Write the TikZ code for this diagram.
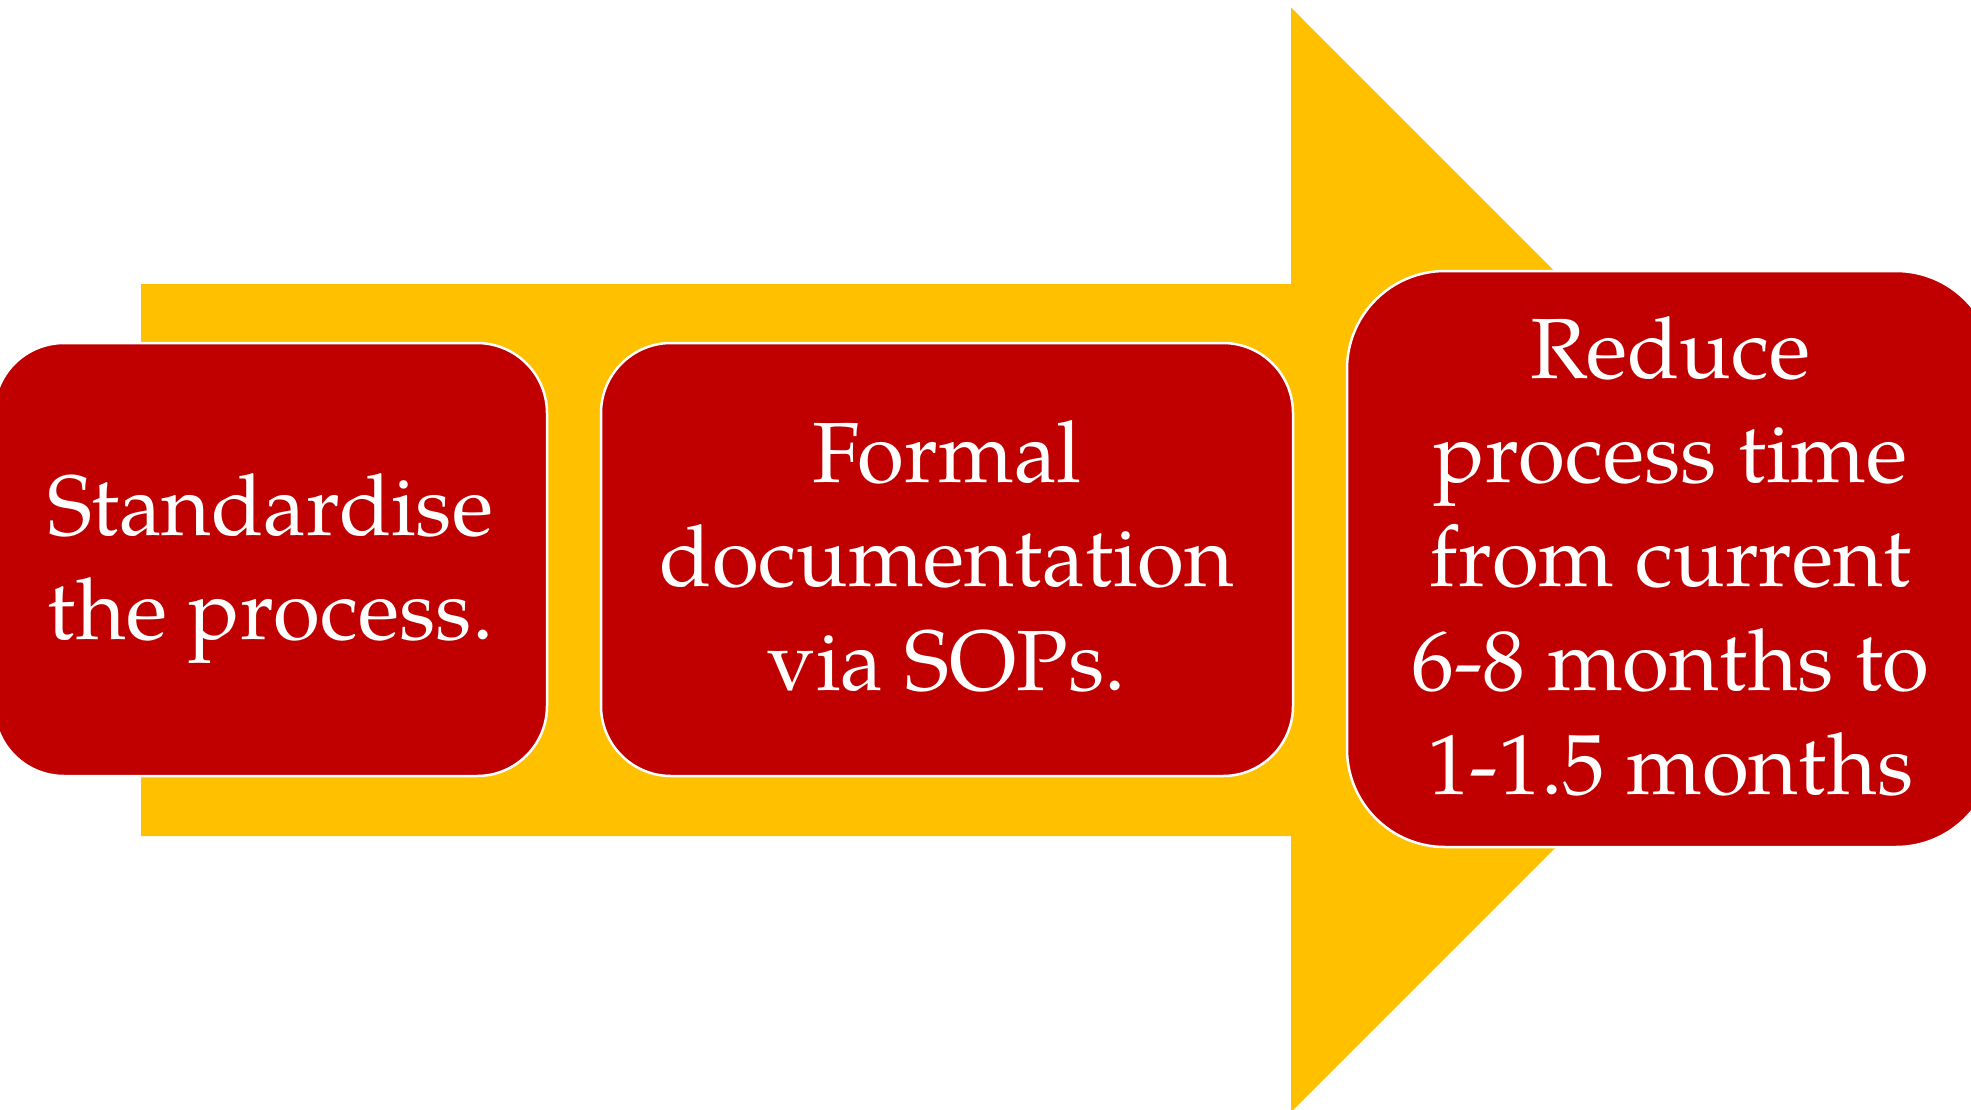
\documentclass[tikz,border=0pt]{standalone}
\usepackage{fontspec}
\setmainfont{texgyrepagella-regular.otf}
\definecolor{boxred}{HTML}{C00000}
\definecolor{arrowgold}{HTML}{FFC000}
\tikzset{
  stepbox/.style={rectangle, rounded corners=70pt, fill=boxred, draw=white,
    line width=2.5pt, inner sep=0pt},
  steptext/.style={text=white, align=center, inner sep=0pt,
    font=\fontsize{85.5}{104}\selectfont},
}
\begin{document}
\begin{tikzpicture}[x=1pt, y=-1pt]
  \useasboundingbox (0,0) rectangle (1971,1109);
  \clip (0,0) rectangle (1971,1109);
  % block arrow behind the three steps
  \fill[arrowgold] (141,284) -- (1291,284) -- (1291,7.5) -- (1843,560)
    -- (1291,1112) -- (1291,836) -- (141,836) -- cycle;
  % step boxes
  \node[stepbox, minimum width=553pt, minimum height=433pt] (s1) at (270.5,559.5) {};
  \node[stepbox, minimum width=692pt, minimum height=433pt] (s2) at (947,559.5) {};
  \node[stepbox, rounded corners=98pt, minimum width=647pt, minimum height=576pt] (s3) at (1670.5,559) {};
  % step texts
  \node[steptext] (t1) at ([yshift=-9pt]s1.center) {Standardise\\the process.};
  \node[steptext] (t2) at ([yshift=3pt]s2.center) {Formal\\documentation\\via SOPs.};
  \node[steptext] (t3) at ([yshift=3pt]s3.center) {Reduce\\process time\\from current\\6-8 months to\\1-1.5 months};
\end{tikzpicture}
\end{document}
